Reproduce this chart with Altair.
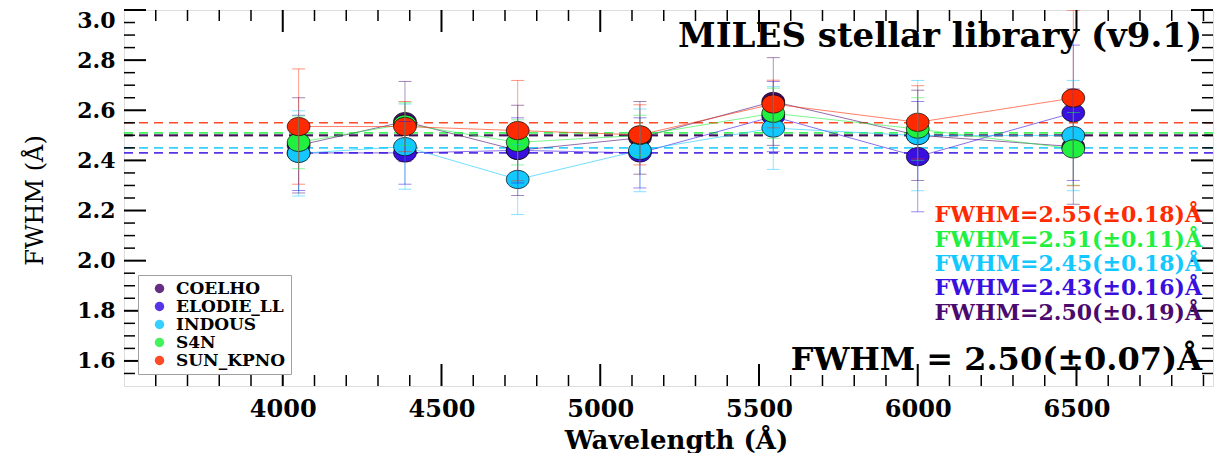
import altair as alt
import pandas as pd

# ---------------- data ----------------
series = ["COELHO", "ELODIE_LL", "INDOUS", "S4N", "SUN_KPNO"]
wavelength = [4050, 4385, 4740, 5125, 5545, 6000, 6490]

fwhm_coelho = [2.46, 2.555, 2.44, 2.49, 2.635, 2.50, 2.455]
err_coelho = [0.19, 0.16, 0.18, 0.145, 0.175, 0.18, 0.23]
fwhm_elodie = [2.43, 2.43, 2.44, 2.43, 2.575, 2.415, 2.59]
err_elodie = [0.15, 0.125, 0.13, 0.14, 0.14, 0.22, 0.27]
fwhm_indous = [2.428, 2.455, 2.324, 2.44, 2.529, 2.499, 2.499]
err_indous = [0.17, 0.17, 0.14, 0.165, 0.165, 0.22, 0.22]
fwhm_s4n = [2.472, 2.545, 2.472, 2.50, 2.588, 2.525, 2.446]
err_s4n = [0.105, 0.085, 0.09, 0.08, 0.10, 0.125, 0.145]
fwhm_sun = [2.535, 2.535, 2.519, 2.502, 2.625, 2.552, 2.649]
err_sun = [0.23, 0.10, 0.20, 0.12, 0.095, 0.146, 0.35]

mean_fwhm = [2.50, 2.43, 2.45, 2.51, 2.55]
mean_err = [0.19, 0.16, 0.18, 0.11, 0.18]
overall_fwhm = 2.50
overall_err = 0.07

x_major = [4000, 4500, 5000, 5500, 6000, 6500]
x_minor = [v for v in range(3600, 7000, 100) if v % 500 != 0]
y_major = [1.6, 1.8, 2.0, 2.2, 2.4, 2.6, 2.8, 3.0]
y_minor = [round(1.55 + 0.05 * i, 2) for i in range(29) if round((1.55 + 0.05 * i) * 100) % 20 != 0]

# ---------------- styles ----------------
palette = ["#4b0a6e", "#3a10e0", "#12c8ff", "#22f040", "#ff2a00"]
FONT = "DejaVu Serif"
W, H = 1089, 376
ELLIPSE = "M -1 0 A 1 0.8 0 1 0 1 0 A 1 0.8 0 1 0 -1 0 Z"

fw = [fwhm_coelho, fwhm_elodie, fwhm_indous, fwhm_s4n, fwhm_sun]
er = [err_coelho, err_elodie, err_indous, err_s4n, err_sun]
rows = []
for si, s in enumerate(series):
    for i, w in enumerate(wavelength):
        rows.append({"series": s, "wl": w, "fwhm": fw[si][i],
                     "lo": fw[si][i] - er[si][i], "hi": fw[si][i] + er[si][i],
                     "hex": palette[si], "order": si})
df = pd.DataFrame(rows)

hl = pd.DataFrame({"v": [overall_fwhm] + mean_fwhm,
                   "hex": ["#000000"] + palette})

xs = alt.Scale(domain=[3500, 6930], nice=False, zero=False)
ys = alt.Scale(domain=[1.5, 3.0], nice=False, zero=False)

x_axis = alt.Axis(values=x_major, format="d", ticks=False, tickSize=0, domain=False,
                  grid=False, labelFont=FONT, labelFontWeight="bold", labelFontSize=24,
                  labelColor="black", labelPadding=11,
                  title="Wavelength (Å)", titleFont=FONT, titleFontWeight="bold",
                  titleFontSize=26, titleColor="black", titleX=552, titleY=54,
                  titleAlign="center", titleBaseline="middle")
y_axis = alt.Axis(values=y_major, format=".1f", ticks=False, tickSize=0, domain=False,
                  grid=False, labelFont=FONT, labelFontWeight="bold", labelFontSize=22,
                  labelColor="black", labelPadding=9, labelFlush=True,
                  title="FWHM (Å)", titleFont=FONT, titleFontWeight="normal",
                  titleFontSize=24, titleColor="black", titleX=-89, titleY=190,
                  titleAngle=270, titleAlign="center", titleBaseline="middle")

X = lambda f: alt.X(f, scale=xs, axis=x_axis, title="Wavelength (Å)")
Y = lambda f: alt.Y(f, scale=ys, axis=y_axis, title="FWHM (Å)")

# dashed horizontal mean lines
hlines = alt.Chart(hl).mark_rule(strokeDash=[9, 6], strokeWidth=1.6, opacity=0.85).encode(
    y=Y("v:Q"),
    color=alt.Color("hex:N", scale=None),
)

lines = alt.Chart(df).mark_line(strokeWidth=1, opacity=0.6, clip=True).encode(
    x=X("wl:Q"),
    y=Y("fwhm:Q"),
    color=alt.Color("hex:N", scale=None),
    detail="series:N",
)

points = alt.Chart(df).mark_point(shape=ELLIPSE, filled=True, size=520, stroke="black",
                                  strokeWidth=1, strokeOpacity=0.7, opacity=1,
                                  clip=True).encode(
    x=X("wl:Q"),
    y=Y("fwhm:Q"),
    color=alt.Color("series:N", scale=alt.Scale(domain=series, range=palette),
                    legend=alt.Legend(title=None, orient="none", legendX=14, legendY=265,
                                      fillColor="white", strokeColor="#a0a0a0",
                                      padding=5, labelFont=FONT, labelFontWeight="bold",
                                      labelFontSize=17, labelColor="black",
                                      symbolType="circle", symbolSize=90,
                                      symbolStrokeWidth=0, symbolOpacity=1,
                                      symbolOffset=8, rowPadding=0, labelOffset=8)),
    order=alt.Order("order:Q"),
)

ebars = alt.Chart(df).mark_rule(strokeWidth=1, opacity=0.45, clip=True).encode(
    x=X("wl:Q"),
    y=Y("lo:Q"),
    y2="hi:Q",
    color=alt.Color("hex:N", scale=None),
)
cap_lo = alt.Chart(df).mark_tick(orient="horizontal", size=13, thickness=1,
                                 opacity=0.5, clip=True).encode(
    x=X("wl:Q"),
    y=Y("lo:Q"),
    color=alt.Color("hex:N", scale=None),
)
cap_hi = alt.Chart(df).mark_tick(orient="horizontal", size=13, thickness=1,
                                 opacity=0.5, clip=True).encode(
    x=X("wl:Q"),
    y=Y("hi:Q"),
    color=alt.Color("hex:N", scale=None),
)

# inward ticks on all four sides
def xticks(vals, length, width, top):
    d = pd.DataFrame({"t": vals})
    if top:
        yy = dict(y=alt.value(0), y2=alt.value(length))
    else:
        yy = dict(y=alt.value(H), y2=alt.value(H - length))
    return alt.Chart(d).mark_rule(color="black", strokeWidth=width).encode(
        x=X("t:Q"), **yy)

def yticks(vals, length, width, right):
    d = pd.DataFrame({"t": vals})
    if right:
        xx = dict(x=alt.value(W), x2=alt.value(W - length))
    else:
        xx = dict(x=alt.value(0), x2=alt.value(length))
    return alt.Chart(d).mark_rule(color="black", strokeWidth=width).encode(
        y=Y("t:Q"), **xx)

tick_layers = [
    xticks(x_major, 22, 2, False), xticks(x_minor, 11, 1.5, False),
    xticks(x_major, 22, 2, True), xticks(x_minor, 11, 1.5, True),
    yticks(y_major, 22, 2, False), yticks(y_minor, 11, 1.5, False),
    yticks(y_major, 22, 2, True), yticks(y_minor, 11, 1.5, True),
]

# annotations
one = alt.Data(values=[{}])
def label(text, y, size, color, baseline="middle"):
    return alt.Chart(one).mark_text(align="right", baseline=baseline, font=FONT,
                                    fontWeight="bold", fontSize=size, color=color).encode(
        x=alt.value(1078), y=alt.value(y), text=alt.value(text))

texts = [label("MILES stellar library (v9.1)", 37, 34, "black", "alphabetic")]
ann_y = [303, 278, 254, 230, 205]
for si in range(len(series)):
    texts.append(label(f"FWHM={mean_fwhm[si]:.2f}(±{mean_err[si]:.2f})Å",
                       ann_y[si], 22, palette[si]))
texts.append(label(f"FWHM = {overall_fwhm:.2f}(±{overall_err:.2f})Å", 350, 32, "black"))

chart = alt.layer(hlines, lines, points, ebars, cap_lo, cap_hi, *tick_layers, *texts).properties(
    width=W, height=H,
    autosize=alt.AutoSizeParams(type="none"),
    padding={"left": 124, "top": 10, "right": 16, "bottom": 67},
).configure_view(stroke="black", strokeWidth=2).configure(background="white")

chart.save("out.html", embed_options={"renderer": "svg", "actions": False})
